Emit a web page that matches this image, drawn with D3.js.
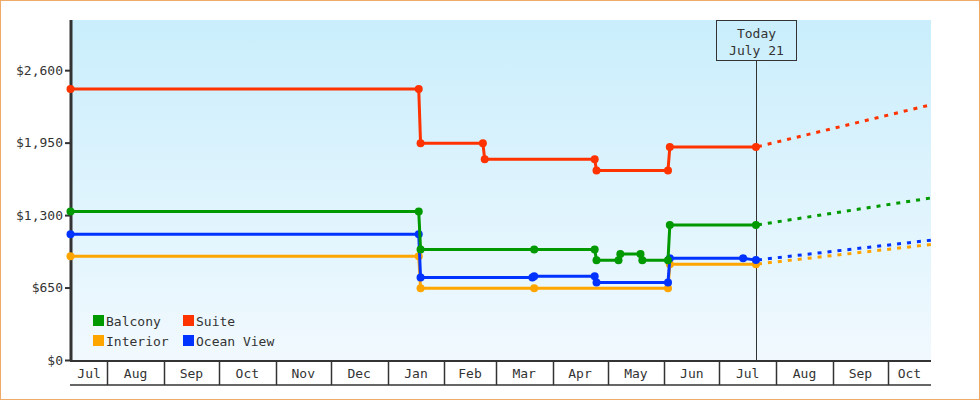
<!DOCTYPE html>
<html><head><meta charset="utf-8">
<script src="https://cdn.jsdelivr.net/npm/d3@7"></script>
<style>
body{margin:0;background:#fff}
svg{display:block}
text{font-family:"DejaVu Sans Mono",monospace;font-size:13px;fill:#333}
</style>
</head><body><svg id="c" width="980" height="400"></svg>
<script>
// ---------- data ----------
const categories = ["Balcony", "Suite", "Interior", "Ocean View"];
const colors = ["#009900", "#ff3300", "#ffa500", "#0033ff"];
const drawOrder = ["Interior", "Ocean View", "Balcony", "Suite"];

const balconyDates  = ["2014-07-12","2015-01-18","2015-01-19","2015-03-22","2015-04-24","2015-04-25","2015-05-07","2015-05-08","2015-05-19","2015-05-20","2015-06-03","2015-06-04","2015-07-21"];
const balconyValues = [1333, 1333, 992, 992, 992, 894, 894, 950, 950, 894, 894, 1210, 1210];

const suiteDates  = ["2014-07-12","2015-01-18","2015-01-19","2015-02-22","2015-02-23","2015-04-24","2015-04-25","2015-06-03","2015-06-04","2015-07-21"];
const suiteValues = [2430, 2430, 1945, 1945, 1800, 1800, 1700, 1700, 1910, 1910];

const interiorDates  = ["2014-07-12","2015-01-18","2015-01-19","2015-03-22","2015-06-03","2015-06-04","2015-07-21"];
const interiorValues = [930, 930, 643, 643, 643, 860, 860];

const oceanDates  = ["2014-07-12","2015-01-18","2015-01-19","2015-03-21","2015-03-22","2015-04-24","2015-04-25","2015-06-03","2015-06-04","2015-07-14","2015-07-21"];
const oceanValues = [1127, 1127, 741, 741, 752, 752, 696, 696, 912, 912, 896];

const todayDate = "2015-07-21";
const todayLabel = ["Today", "July 21"];
const projectionEndDate = "2015-10-25";
const projectionValues = [1455, 2292, 1037, 1076]; // Balcony, Suite, Interior, Ocean View

const xDomain = ["2014-07-12 00:00", "2015-10-24 12:00"];
const yMax = 3050;
const yTicks = [0, 650, 1300, 1950, 2600];

// ---------- setup ----------
const parseDay = d3.timeParse("%Y-%m-%d");
const parseDT = d3.timeParse("%Y-%m-%d %H:%M");
const seriesData = {
  "Balcony":    balconyDates.map((d, i) => ({date: parseDay(d), value: balconyValues[i]})),
  "Suite":      suiteDates.map((d, i) => ({date: parseDay(d), value: suiteValues[i]})),
  "Interior":   interiorDates.map((d, i) => ({date: parseDay(d), value: interiorValues[i]})),
  "Ocean View": oceanDates.map((d, i) => ({date: parseDay(d), value: oceanValues[i]}))
};
const colorOf = d3.scaleOrdinal().domain(categories).range(colors);

const pLeft = 71, pRight = 931, pTop = 20, pBottom = 360;
const svg = d3.select("#c");

const x = d3.scaleTime().domain(xDomain.map(parseDT)).range([70.5, pRight]);
const y = d3.scaleLinear().domain([0, yMax]).range([pBottom, pTop]);

// gradient background
const defs = svg.append("defs");
const grad = defs.append("linearGradient").attr("id", "bg").attr("x1", 0).attr("y1", 0).attr("x2", 0).attr("y2", 1);
grad.append("stop").attr("offset", "0%").attr("stop-color", "#caeefc");
grad.append("stop").attr("offset", "100%").attr("stop-color", "#f1f9fe");
defs.append("clipPath").attr("id", "clip").append("rect")
  .attr("x", pLeft - 6).attr("y", pTop).attr("width", pRight - pLeft + 6).attr("height", pBottom - pTop);

svg.append("rect").attr("x", 0.5).attr("y", 0.5).attr("width", 979).attr("height", 399)
  .attr("fill", "#fff").attr("stroke", "#eeaa66").attr("stroke-width", 1);

svg.append("rect").attr("x", pLeft).attr("y", pTop).attr("width", pRight - pLeft).attr("height", pBottom - pTop)
  .attr("fill", "url(#bg)");

// y axis
const yAxis = d3.axisLeft(y).tickValues(yTicks).tickFormat(d => "$" + d3.format(",")(d)).tickSize(6).tickPadding(2);
const ya = svg.append("g").attr("transform", `translate(${pLeft},0)`).call(yAxis);
ya.select(".domain").remove();
ya.selectAll(".tick line").attr("stroke", "#333").attr("stroke-width", 2);
ya.selectAll(".tick text").style("fill", "#333");
ya.attr("font-family", null).attr("font-size", null);
svg.append("line").attr("x1", pLeft).attr("x2", pLeft).attr("y1", pTop).attr("y2", pBottom + 1)
  .attr("stroke", "#333").attr("stroke-width", 3);

// today marker
const tx = Math.round(x(parseDay(todayDate))) + 0.5;
svg.append("line").attr("x1", tx).attr("x2", tx).attr("y1", 60.5).attr("y2", pBottom)
  .attr("stroke", "#333").attr("stroke-width", 1);
svg.append("rect").attr("x", tx - 40).attr("y", pTop + 0.5).attr("width", 80).attr("height", 40)
  .attr("fill", "none").attr("stroke", "#333").attr("stroke-width", 1);
svg.append("text").attr("x", tx).attr("y", 38).attr("text-anchor", "middle").text(todayLabel[0]);
svg.append("text").attr("x", tx).attr("y", 55).attr("text-anchor", "middle").text(todayLabel[1]);

// series
const line = d3.line().x(d => x(d.date)).y(d => y(d.value));
const g = svg.append("g").attr("clip-path", "url(#clip)");
drawOrder.forEach(name => {
  const data = seriesData[name];
  const c = colorOf(name);
  const last = data[data.length - 1];
  const proj = [last, {date: parseDay(projectionEndDate), value: projectionValues[categories.indexOf(name)]}];
  g.append("path").datum(proj).attr("d", line).attr("fill", "none").attr("stroke", c)
    .attr("stroke-width", 3).attr("stroke-dasharray", "4,6").attr("stroke-dashoffset", -12);
});
drawOrder.forEach(name => {
  const data = seriesData[name];
  const c = colorOf(name);
  g.append("path").datum(data).attr("d", line).attr("fill", "none").attr("stroke", c)
    .attr("stroke-width", 3).attr("stroke-linejoin", "round");
  g.selectAll(null).data(data).join("circle")
    .attr("cx", d => x(d.date)).attr("cy", d => y(d.value)).attr("r", 4).attr("fill", c);
});

// x axis: month bands
const d0 = x.domain()[0], d1 = x.domain()[1];
const months = d3.timeMonth.range(d3.timeMonth.floor(d0), d1);
const fmt = d3.timeFormat("%b");
const xa = svg.append("g");
xa.append("line").attr("x1", pLeft - 1).attr("x2", pRight).attr("y1", 361).attr("y2", 361)
  .attr("stroke", "#333").attr("stroke-width", 2);
xa.append("line").attr("x1", pLeft - 1).attr("x2", pRight).attr("y1", 385).attr("y2", 385)
  .attr("stroke", "#333").attr("stroke-width", 1.5);
months.forEach(m => {
  const next = d3.timeMonth.offset(m, 1);
  const a = Math.max(x(m), pLeft), b = Math.min(x(next), pRight);
  if (x(m) > pLeft + 1) {
    const sx = Math.round(x(m)) + 0.5;
    xa.append("line").attr("x1", sx).attr("x2", sx).attr("y1", 361).attr("y2", 385)
      .attr("stroke", "#333").attr("stroke-width", 1.5);
  }
  xa.append("text").attr("x", (a + b) / 2).attr("y", 378).attr("text-anchor", "middle").text(fmt(m));
});

// legend
const legendPos = [[93, 315], [183, 315], [93, 335], [183, 335]];
categories.forEach((name, i) => {
  const [lx, ly] = legendPos[i];
  svg.append("rect").attr("x", lx).attr("y", ly).attr("width", 11).attr("height", 11).attr("fill", colorOf(name));
  svg.append("text").attr("x", lx + 13).attr("y", ly + 11).text(name);
});
</script>
</body></html>
